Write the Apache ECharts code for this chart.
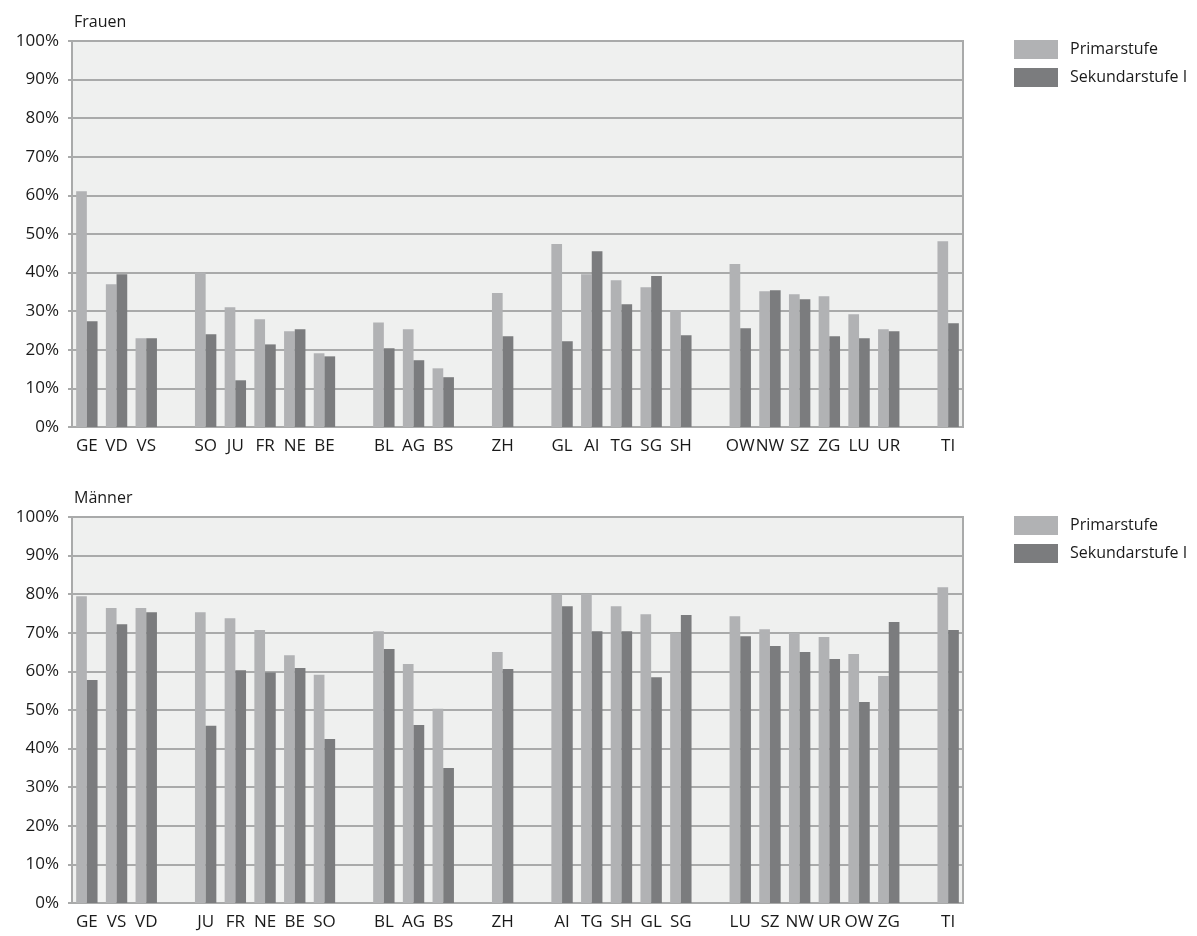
<!DOCTYPE html>
<html>
<head>
<meta charset="utf-8">
<script src="https://cdn.jsdelivr.net/npm/echarts@6/dist/echarts.min.js"></script>
<style>
  html, body { margin: 0; padding: 0; background: #fff; }
  #main { width: 1197px; height: 936px; }
</style>
</head>
<body>
<div id="main"></div>
<script>
// Frauen (top panel), blank strings are the gaps between the groups
var catsF = ['GE','VD','VS',' ','SO','JU','FR','NE','BE','  ','BL','AG','BS','   ','ZH','    ',
  'GL','AI','TG','SG','SH','     ','OW','NW','SZ','ZG','LU','UR','      ','TI'];
var primF = [61.1,37.0,23.0,null,40.0,31.0,27.9,24.8,19.1,null,27.1,25.3,15.2,null,34.7,null,
  47.4,39.6,38.0,36.2,30.3,null,42.2,35.2,34.4,33.9,29.2,25.3,null,48.1];
var sekF = [27.4,39.6,23.0,null,24.0,12.1,21.4,25.3,18.3,null,20.4,17.3,12.9,null,23.5,null,
  22.2,45.5,31.8,39.1,23.8,null,25.6,35.4,33.1,23.5,23.0,24.8,null,26.9];

// Männer (bottom panel)
var catsM = ['GE','VS','VD',' ','JU','FR','NE','BE','SO','  ','BL','AG','BS','   ','ZH','    ',
  'AI','TG','SH','GL','SG','     ','LU','SZ','NW','UR','OW','ZG','      ','TI'];
var primM = [79.5,76.4,76.4,null,75.3,73.8,70.7,64.2,59.1,null,70.4,61.9,50.3,null,65.0,null,
  80.0,80.1,76.9,74.8,69.9,null,74.3,70.9,70.0,68.9,64.5,58.8,null,81.8];
var sekM = [57.8,72.2,75.3,null,45.9,60.3,59.7,60.9,42.5,null,65.8,46.1,35.0,null,60.6,null,
  76.9,70.4,70.4,58.5,74.6,null,69.1,66.6,65.0,63.2,52.1,72.8,null,70.7];

var panelTitles = ['Frauen', 'Männer'];
var seriesNames = ['Primarstufe', 'Sekundarstufe I'];

var FONT = '"Open Sans", sans-serif';
var LIGHT = '#b1b2b4';
var DARK = '#7b7c7e';
var LINE = '#a9aaaa';

var chart = echarts.init(document.getElementById('main'));

var gridTops = [41, 517];
var grids = [], xAxes = [], yAxes = [], series = [], titles = [], legends = [];

[[catsF, primF, sekF], [catsM, primM, sekM]].forEach(function (p, i) {
  grids.push({
    left: 72, width: 891, top: gridTops[i], height: 386,
    show: true, backgroundColor: '#eff0ef', borderColor: LINE, borderWidth: 2
  });
  xAxes.push({
    type: 'category', gridIndex: i, data: p[0],
    axisLine: { show: true, lineStyle: { color: LINE, width: 2 } },
    axisTick: { show: false },
    axisLabel: { interval: 0, color: '#1a1a1a', fontFamily: FONT, fontSize: 17, margin: 11 }
  });
  yAxes.push({
    type: 'value', gridIndex: i, min: 0, max: 100, interval: 10,
    axisLine: { show: true, lineStyle: { color: LINE, width: 2 } },
    axisTick: { show: true, length: 4, lineStyle: { color: LINE, width: 2 } },
    splitLine: { show: true, lineStyle: { color: LINE, width: 2 } },
    axisLabel: { formatter: '{value}%', color: '#1a1a1a', fontFamily: FONT, fontSize: 17, margin: 13 }
  });
  series.push({
    name: seriesNames[0], type: 'bar', xAxisIndex: i, yAxisIndex: i, data: p[1],
    barWidth: '36%', barGap: '0%', itemStyle: { color: LIGHT }
  });
  series.push({
    name: seriesNames[1], type: 'bar', xAxisIndex: i, yAxisIndex: i, data: p[2],
    barWidth: '36%', barGap: '0%', itemStyle: { color: DARK }
  });
  titles.push({
    text: panelTitles[i], left: 69, top: gridTops[i] - 32,
    textStyle: { fontFamily: FONT, fontSize: 16, fontWeight: 'normal', color: '#1a1a1a' }
  });
  legends.push({
    data: seriesNames, orient: 'vertical', left: 1009, top: gridTops[i] - 6,
    itemWidth: 44, itemHeight: 19, itemGap: 9, icon: 'rect',
    selectedMode: false,
    textStyle: { fontFamily: FONT, fontSize: 16, color: '#1a1a1a', padding: [0, 0, 0, 7] }
  });
});

chart.setOption({
  animation: false,
  title: titles,
  legend: legends,
  grid: grids,
  xAxis: xAxes,
  yAxis: yAxes,
  series: series
});
</script>
</body>
</html>
